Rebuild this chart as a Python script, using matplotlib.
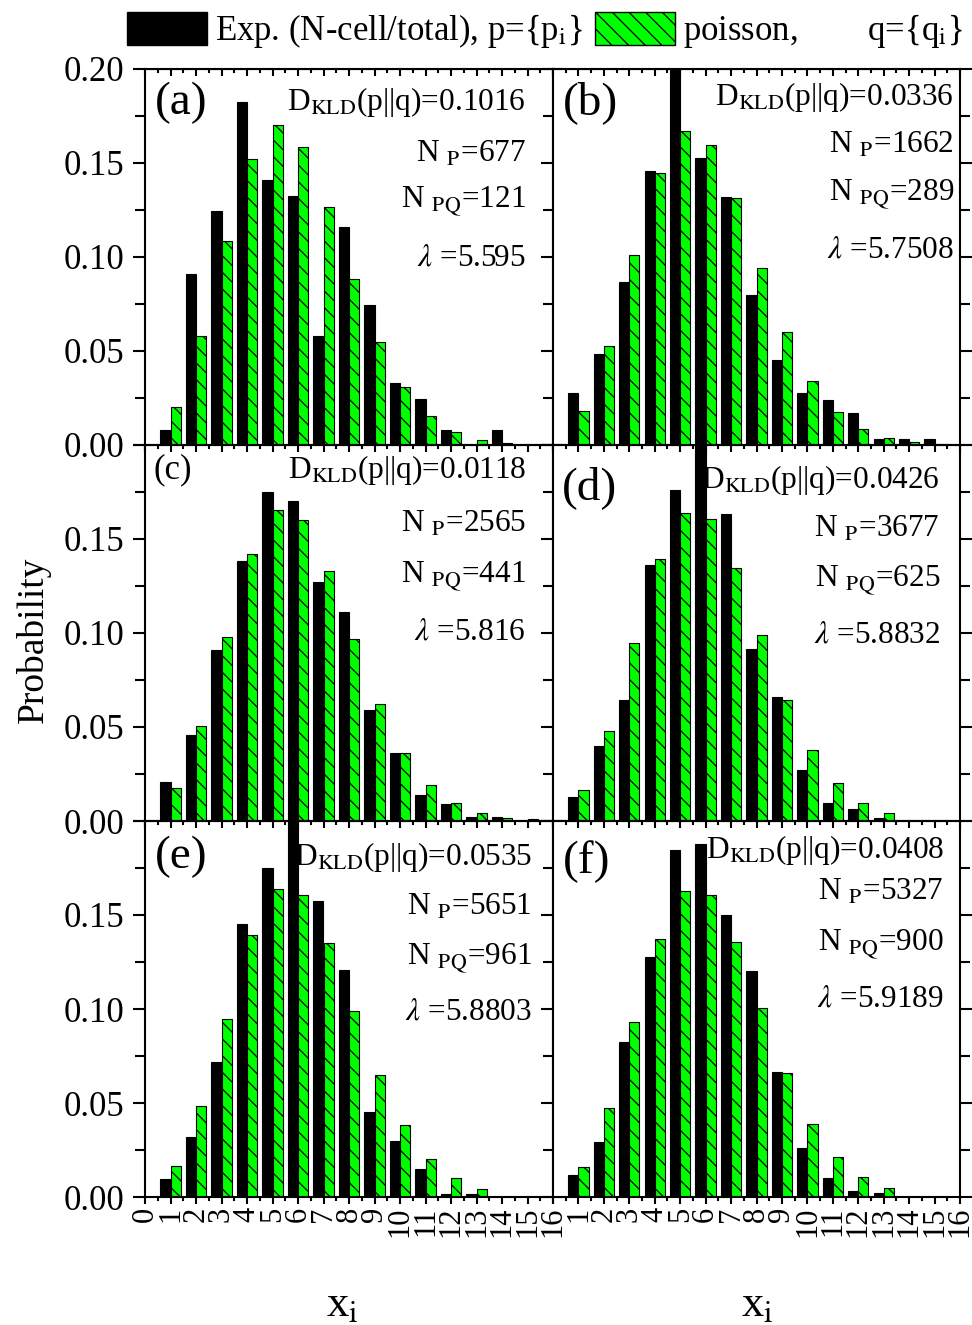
import numpy as np
import matplotlib.pyplot as plt
from matplotlib.patches import Patch
from matplotlib.ticker import MultipleLocator

plt.rcParams['font.family'] = ['Liberation Serif', 'DejaVu Serif']
plt.rcParams['mathtext.fontset'] = 'stix'
plt.rcParams['hatch.linewidth'] = 0.9

W, H = 972, 1325
GREEN = '#00ff00'

xi = np.arange(1, 16)

# measured probabilities, black = experiment p, green = poisson q
exp_a = [0.0082, 0.0912, 0.1243, 0.1822, 0.1408, 0.1326, 0.0578, 0.1159, 0.0745, 0.0329, 0.0247, 0.0082, 0.0, 0.0082, 0.0]
poi_a = [0.0204, 0.0581, 0.1084, 0.1520, 0.1700, 0.1586, 0.1268, 0.0885, 0.0548, 0.0306, 0.0153, 0.0071, 0.0028, 0.0011, 0.0]
exp_b = [0.0277, 0.0485, 0.0868, 0.1458, 0.2100, 0.1525, 0.1319, 0.0796, 0.0450, 0.0277, 0.0242, 0.0172, 0.0034, 0.0034, 0.0034]
poi_b = [0.0181, 0.0524, 0.1008, 0.1449, 0.1669, 0.1598, 0.1312, 0.0942, 0.0601, 0.0343, 0.0178, 0.0085, 0.0036, 0.0014, 0.0005]
exp_c = [0.0206, 0.0456, 0.0910, 0.1385, 0.1748, 0.1702, 0.1273, 0.1112, 0.0590, 0.0363, 0.0138, 0.0090, 0.0023, 0.0023, 0.0]
poi_c = [0.0174, 0.0504, 0.0977, 0.1420, 0.1652, 0.1603, 0.1332, 0.0966, 0.0624, 0.0363, 0.0191, 0.0094, 0.0041, 0.0018, 0.0009]
exp_d = [0.0128, 0.0401, 0.0642, 0.1362, 0.1761, 0.2100, 0.1633, 0.0915, 0.0658, 0.0273, 0.0096, 0.0062, 0.0016, 0.0, 0.0]
poi_d = [0.0163, 0.0480, 0.0945, 0.1392, 0.1637, 0.1605, 0.1348, 0.0989, 0.0645, 0.0378, 0.0204, 0.0098, 0.0044, 0.0, 0.0]
exp_e = [0.0096, 0.0317, 0.0720, 0.1450, 0.1750, 0.2100, 0.1573, 0.1209, 0.0450, 0.0296, 0.0147, 0.0014, 0.0014, 0.0, 0.0]
poi_e = [0.0166, 0.0485, 0.0949, 0.1393, 0.1637, 0.1605, 0.1349, 0.0991, 0.0648, 0.0382, 0.0204, 0.0103, 0.0044, 0.0, 0.0]
exp_f = [0.0115, 0.0290, 0.0825, 0.1278, 0.1848, 0.1878, 0.1501, 0.1202, 0.0667, 0.0258, 0.0103, 0.0034, 0.0023, 0.0, 0.0]
poi_f = [0.0161, 0.0471, 0.0929, 0.1373, 0.1627, 0.1605, 0.1358, 0.1005, 0.0660, 0.0389, 0.0212, 0.0104, 0.0050, 0.0, 0.0]

letters = ['(a)', '(b)', '(c)', '(d)', '(e)', '(f)']
dkl = ['0.1016', '0.0336', '0.0118', '0.0426', '0.0535', '0.0408']
n_p = ['677', '1662', '2565', '3677', '5651', '5327']
n_pq = ['121', '289', '441', '625', '961', '900']
lam = ['5.595', '5.7508', '5.816', '5.8832', '5.8803', '5.9189']

exps = [exp_a, exp_b, exp_c, exp_d, exp_e, exp_f]
pois = [poi_a, poi_b, poi_c, poi_d, poi_e, poi_f]

# layout in pixels
col_left = [145, 553]
col_w = [408, 407]
row_top = [69, 445, 821]
row_h = 376

# text anchors (px): right edge of annotation block, line centres, letter spot
txt_right = [526, 954, 526, 940, 532, 944]
txt_y = [[102, 154, 202, 258], [97, 145, 195, 250], [470, 524, 577, 632],
         [480, 529, 581, 635], [857, 907, 959, 1012], [850, 892, 945, 999]]
let_xy = [(155, 103), (563, 103), (153, 470), (562, 488), (155, 857), (563, 862)]
let_size = [34, 34, 25, 34, 34, 34]

fig = plt.figure(figsize=(W / 100, H / 100), dpi=100)

for k in range(6):
    r, c = k // 2, k % 2
    ax = fig.add_axes([col_left[c] / W, 1 - (row_top[r] + row_h) / H, col_w[c] / W, row_h / H])
    ax.bar(xi - 0.2, exps[k], width=0.4, color='black', edgecolor='black', linewidth=0.8)
    ax.bar(xi + 0.2, pois[k], width=0.4, color=GREEN, edgecolor='black', hatch='\\\\', linewidth=0.8)
    ax.set_xlim(0, 16)
    ax.set_ylim(0, 0.2)
    for s in ax.spines.values():
        s.set_linewidth(1.5)

    ax.set_xticks(np.arange(0, 17))
    ax.xaxis.set_minor_locator(MultipleLocator(0.5))
    ax.set_yticks(np.arange(0, 0.201, 0.05))
    ax.yaxis.set_minor_locator(MultipleLocator(0.025))
    ax.tick_params(axis='x', which='both', direction='out', top=False, width=1.5, labelsize=22, pad=2)
    ax.tick_params(axis='x', which='major', length=5)
    ax.tick_params(axis='x', which='minor', length=3)
    ax.tick_params(axis='y', which='both', direction='out', left=True, right=True, width=1.5, labelsize=25, pad=6)
    ax.tick_params(axis='y', which='major', length=9)
    ax.tick_params(axis='y', which='minor', length=7)

    top = ax.secondary_xaxis('top')
    top.set_xticks(np.arange(0, 17))
    top.xaxis.set_minor_locator(MultipleLocator(0.5))
    top.tick_params(which='both', direction='in', labeltop=False, width=1.5)
    top.tick_params(which='major', length=5)
    top.tick_params(which='minor', length=3)

    xl = [str(v) for v in range(17)]
    if c == 1:
        xl[0] = ''
    if r < 2:
        ax.tick_params(axis='x', labelbottom=False)
    else:
        ax.set_xticklabels(xl, rotation=90)

    if c == 0:
        yl = ['0.00', '0.05', '0.10', '0.15', '0.20' if r == 0 else '']
        ax.set_yticklabels(yl)
    else:
        ax.tick_params(axis='y', labelleft=False)

    fig.text(let_xy[k][0] / W, 1 - let_xy[k][1] / H, letters[k], fontsize=let_size[k], ha='left', va='center')
    lines = [r'D$_\mathrm{KLD}$(p||q)=' + dkl[k],
             r'N $_\mathrm{P}$=' + n_p[k],
             r'N $_\mathrm{PQ}$=' + n_pq[k],
             r'$\lambda$ =' + lam[k]]
    for t, yy in zip(lines, txt_y[k]):
        fig.text(txt_right[k] / W, 1 - yy / H, t, fontsize=22.5, ha='right', va='center')

fig.text(33 / W, 1 - 640 / H, 'Probability', fontsize=27, rotation=90, ha='center', va='center')
fig.text(342 / W, 1 - 1305 / H, r'x$_\mathrm{i}$', fontsize=32, ha='center', va='center')
fig.text(757 / W, 1 - 1305 / H, r'x$_\mathrm{i}$', fontsize=32, ha='center', va='center')

handles = [Patch(facecolor='black', edgecolor='black'),
           Patch(facecolor=GREEN, edgecolor='black', hatch='\\\\')]
labels = [r'Exp. (N-cell/total), p={p$_\mathrm{i}$}', r'poisson,        q={q$_\mathrm{i}$}']
fig.legend(handles, labels, loc='center', bbox_to_anchor=(545 / W, 1 - 31 / H), ncol=2,
           frameon=False, fontsize=25, handlelength=2.3, handleheight=1.1,
           handletextpad=0.25, columnspacing=0.35, borderpad=0)

fig.savefig('out.png', dpi=100)
